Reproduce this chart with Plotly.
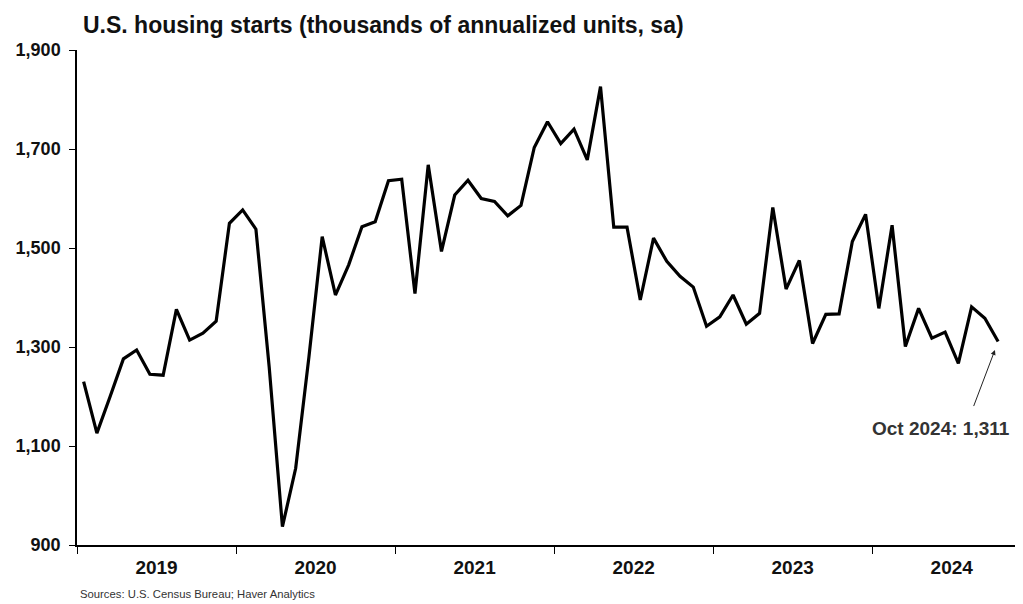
import plotly.graph_objects as go

months = [f"{y}-{m:02d}" for y in range(2019, 2025) for m in range(1, 13)][:70]
starts = [
    1230, 1126, 1200, 1276, 1294, 1245, 1243, 1376, 1314, 1328, 1352, 1550,
    1577, 1538, 1260, 937, 1055, 1280, 1523, 1405, 1466, 1543, 1553, 1636,
    1639, 1408, 1668, 1493, 1607, 1637, 1600, 1594, 1565, 1586, 1703, 1755,
    1711, 1740, 1678, 1826, 1542, 1542, 1395, 1520, 1473, 1443, 1421, 1342,
    1361, 1405, 1346, 1368, 1582, 1417, 1475, 1307, 1366, 1367, 1513, 1568,
    1378, 1546, 1301, 1378, 1318, 1330, 1267, 1381, 1358, 1311,
]
years = ["2019", "2020", "2021", "2022", "2023", "2024"]
y_ticks = [900, 1100, 1300, 1500, 1700, 1900]
last_label = "Oct 2024: 1,311"

idx = list(range(len(starts)))
year_centers = [i * 12 + 5.5 for i in range(len(years))]

# page body has an 8px margin, so the figure is sized/offset to compensate
W, H = 1015, 596

fig = go.Figure()
fig.add_trace(go.Scatter(
    x=idx, y=starts, mode="lines",
    line=dict(color="black", width=3.2),
    customdata=months, hovertemplate="%{customdata}: %{y}<extra></extra>",
    showlegend=False,
))

# arrow pointing at the latest value
fig.add_annotation(
    x=idx[-1], y=starts[-1], xref="x", yref="y",
    text="", showarrow=True, arrowhead=2, arrowsize=1, arrowwidth=1,
    arrowcolor="#222", ax=-25, ay=66, standoff=9,
)
# label for the latest value
fig.add_annotation(
    x=idx[-1], y=starts[-1], xref="x", yref="y",
    text=f"<b>{last_label}</b>", showarrow=False,
    xshift=-57, yshift=-87, xanchor="center", yanchor="middle",
    font=dict(family="Liberation Sans, Arial", size=19, color="#333"),
)

fig.update_layout(
    width=W, height=H,
    margin=dict(l=69, r=5, t=42, b=59, autoexpand=False),
    paper_bgcolor="white", plot_bgcolor="white",
    font=dict(family="Liberation Sans, Arial", color="#111"),
    title=dict(
        text="<b>U.S. housing starts (thousands of annualized units, sa)</b>",
        x=75 / W, xanchor="left", y=1 - 17 / H, yanchor="middle",
        font=dict(size=23, color="#111"), automargin=False,
    ),
    xaxis=dict(
        range=[-0.5, 70.5], showgrid=False, zeroline=False, automargin=False,
        showline=True, linecolor="black", linewidth=1.5,
        tickvals=year_centers, ticktext=[f"<b>{y}</b>" for y in years],
        ticks="", tickfont=dict(size=19, color="#111"), ticklabelstandoff=4,
        minor=dict(tick0=-0.5, dtick=12, ticks="outside", ticklen=7,
                   tickcolor="black", tickwidth=1, showgrid=False),
        fixedrange=True,
    ),
    yaxis=dict(
        range=[900, 1900], showgrid=False, zeroline=False, automargin=False,
        showline=True, linecolor="black", linewidth=1.5,
        tickvals=y_ticks, ticktext=[f"<b>{v:,}</b>" for v in y_ticks],
        ticks="outside", ticklen=6, tickcolor="black", ticklabelstandoff=5,
        tickfont=dict(size=18, color="#111"), fixedrange=True,
    ),
)

fig.add_annotation(
    x=1 / 941, y=-(594 - 545) / 495, xref="paper", yref="paper",
    text="Sources: U.S. Census Bureau; Haver Analytics",
    showarrow=False, xanchor="left", yanchor="middle",
    font=dict(size=11.3, color="#333"),
)

fig.write_html("out.html")
